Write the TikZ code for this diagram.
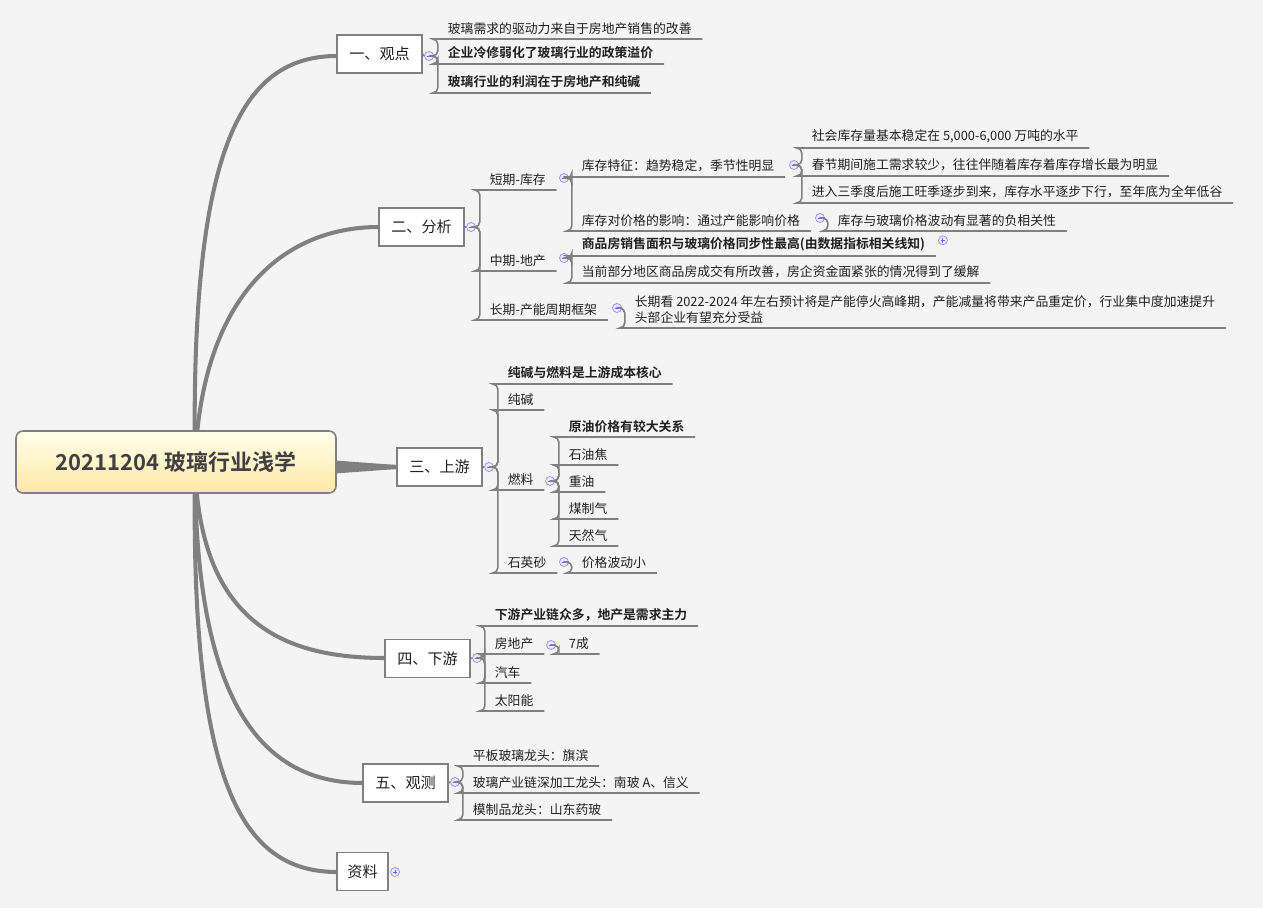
\documentclass[tikz,border=0pt]{standalone}
\usepackage{fontspec}
\setmainfont{Noto Sans CJK SC}[BoldFont={Noto Sans CJK SC Bold}]
\usetikzlibrary{calc, positioning}

\definecolor{bggray}{HTML}{F4F4F4}
\definecolor{linegray}{HTML}{808080}
\definecolor{txt}{HTML}{202020}

\tikzset{
  branch/.style={draw=linegray, line width=2.3pt, line cap=round},
  topic/.style={draw=linegray, fill=white, line width=0.8pt, minimum width=85*0.02cm,
    minimum height=38*0.02cm, inner sep=0pt, font=\fontsize{8.6}{10}\selectfont, text=txt},
  leaf/.style={anchor=south west, inner xsep=6pt, inner ysep=2.5pt,
    font=\fontsize{7.3}{8.8}\selectfont, text=txt},
  bleaf/.style={leaf, font=\fontsize{7.3}{8.8}\selectfont\bfseries},
  conn/.style={draw=linegray, line width=0.9pt, rounded corners=3pt},
  fold/.style={circle, draw=blue!45, fill=blue!8, line width=0.4pt, minimum size=9*0.02cm,
    inner sep=0pt, path picture={\draw[blue!60, line width=0.5pt]
      ($(path picture bounding box.west)+(1.2pt,0)$) -- ($(path picture bounding box.east)+(-1.2pt,0)$);}},
  unfold/.style={fold, path picture={\draw[blue!60, line width=0.5pt]
      ($(path picture bounding box.west)+(1.2pt,0)$) -- ($(path picture bounding box.east)+(-1.2pt,0)$)
      ($(path picture bounding box.north)+(0,-1.2pt)$) -- ($(path picture bounding box.south)+(0,1.2pt)$);}},
}

\begin{document}
\begin{tikzpicture}[x=0.02cm, y=-0.02cm]

  \fill[bggray] (0,0) rectangle (1263,908);
  \useasboundingbox (0,0) rectangle (1263,908);

  % main branches
  \coordinate (hub) at (195,466);
  \draw[branch] (hub) .. controls (190,150) and (240,56) .. (337,56);
  \draw[branch] (hub) .. controls (200,300) and (280,227) .. (379,227);
  \draw[branch] (hub) .. controls (280,466) and (330,467) .. (397,467);
  \draw[branch] (hub) .. controls (200,620) and (280,658) .. (385,658);
  \draw[branch] (hub) .. controls (195,700) and (260,783) .. (363,783);
  \draw[branch] (hub) .. controls (190,780) and (240,872) .. (337,872);
  \fill[linegray] (300,458) -- (397,465) -- (397,469) -- (300,476) -- cycle;

  % root
  \node[draw=linegray, line width=0.9pt, rounded corners=4pt, top color=yellow!8, bottom color=yellow!45!orange!35,
    minimum width=320*0.02cm, minimum height=62*0.02cm, font=\fontsize{12.5}{14}\selectfont\bfseries,
    text=black!75] (root) at (176,462) {20211204 玻璃行业浅学};

  % topics
  \node[topic] (view) at (379.5,54) {一、观点};
  \node[topic] (anal) at (421.5,227) {二、分析};
  \node[topic] (up) at (439.5,467) {三、上游};
  \node[topic] (down) at (427.5,658.5) {四、下游};
  \node[topic] (watch) at (405.5,783) {五、观测};
  \node[topic, minimum width=51*0.02cm] (ref) at (362.5,871.5) {资料};

  % 一、观点
  \node[fold] (viewf) at (429,56) {};
  \draw[conn] (view.east) -- (viewf.west);
  \node[leaf] (v1) at (437,39) {玻璃需求的驱动力来自于房地产销售的改善};
  \node[bleaf] (v2) at (437,64) {企业冷修弱化了玻璃行业的政策溢价};
  \node[bleaf] (v3) at (437,93) {玻璃行业的利润在于房地产和纯碱};
  \foreach \n in {v1,v2,v3}
    \draw[conn] (viewf.east) -- ++(4,0) |- (\n.south west) -- (\n.south east);

  % 二、分析
  \node[fold] (analf) at (471,227) {};
  \draw[conn] (anal.east) -- (analf.west);
  \node[leaf] (short) at (479,190) {短期-库存};
  \node[leaf] (mid) at (479,271) {中期-地产};
  \node[leaf] (long) at (479,320) {长期-产能周期框架};
  \foreach \n in {short,mid,long}
    \draw[conn] (analf.east) -- ++(4,0) |- (\n.south west) -- (\n.south east);

  \node[fold] (shortf) at (564,178) {};
  \node[leaf] (stock) at (571,177) {库存特征：趋势稳定，季节性明显};
  \node[leaf] (price) at (571,231) {库存对价格的影响：通过产能影响价格};
  \foreach \n in {stock,price}
    \draw[conn] (shortf.east) -- ++(3,0) |- (\n.south west) -- (\n.south east);

  \node[fold] (stockf) at (794,165) {};
  \node[leaf] (s1) at (801,148) {社会库存量基本稳定在 5,000-6,000 万吨的水平};
  \node[leaf] (s2) at (801,176) {春节期间施工需求较少，往往伴随着库存着库存增长最为明显};
  \node[leaf] (s3) at (801,203) {进入三季度后施工旺季逐步到来，库存水平逐步下行，至年底为全年低谷};
  \foreach \n in {s1,s2,s3}
    \draw[conn] (stockf.east) -- ++(3,0) |- (\n.south west) -- (\n.south east);

  \node[fold] (pricef) at (820,218) {};
  \node[leaf] (p1) at (827,231) {库存与玻璃价格波动有显著的负相关性};
  \draw[conn] (pricef.east) -- ++(3,0) |- (p1.south west) -- (p1.south east);

  \node[fold] (midf) at (564,258) {};
  \node[bleaf] (m1) at (571,256) {商品房销售面积与玻璃价格同步性最高(由数据指标相关线知)};
  \node[leaf] (m2) at (571,283) {当前部分地区商品房成交有所改善，房企资金面紧张的情况得到了缓解};
  \foreach \n in {m1,m2}
    \draw[conn] (midf.east) -- ++(3,0) |- (\n.south west) -- (\n.south east);
  \node[unfold, right=2pt of m1.south east, anchor=south west, yshift=7pt] (m1f) {};

  \node[fold] (longf) at (617,308) {};
  \node[leaf, align=left] (l1) at (624,328) {长期看 2022-2024 年左右预计将是产能停火高峰期，产能减量将带来产品重定价，行业集中度加速提升\\头部企业有望充分受益};
  \draw[conn] (longf.east) -- ++(3,0) |- (l1.south west) -- (l1.south east);

  % 三、上游
  \node[fold] (upf) at (489,467) {};
  \draw[conn] (up.east) -- (upf.west);
  \node[bleaf] (u1) at (497,384) {纯碱与燃料是上游成本核心};
  \node[leaf] (soda) at (497,410) {纯碱};
  \node[leaf] (fuel) at (497,490) {燃料};
  \node[leaf] (sand) at (497,573) {石英砂};
  \foreach \n in {u1,soda,fuel,sand}
    \draw[conn] (upf.east) -- ++(4,0) |- (\n.south west) -- (\n.south east);

  \node[fold] (fuelf) at (550,481) {};
  \node[bleaf] (f1) at (558,437) {原油价格有较大关系};
  \node[leaf] (f2) at (558,465) {石油焦};
  \node[leaf] (f3) at (558,492) {重油};
  \node[leaf] (f4) at (558,519) {煤制气};
  \node[leaf] (f5) at (558,546) {天然气};
  \foreach \n in {f1,f2,f3,f4,f5}
    \draw[conn] (fuelf.east) -- ++(4,0) |- (\n.south west) -- (\n.south east);

  \node[fold] (sandf) at (564,562) {};
  \node[leaf] (q1) at (571,573) {价格波动小};
  \draw[conn] (sandf.east) -- ++(3,0) |- (q1.south west) -- (q1.south east);

  % 四、下游
  \node[fold] (downf) at (477,658) {};
  \draw[conn] (down.east) -- (downf.west);
  \node[bleaf] (d1) at (484,626) {下游产业链众多，地产是需求主力};
  \node[leaf] (estate) at (484,654) {房地产};
  \node[leaf] (car) at (484,683) {汽车};
  \node[leaf] (solar) at (484,711) {太阳能};
  \foreach \n in {d1,estate,car,solar}
    \draw[conn] (downf.east) -- ++(3,0) |- (\n.south west) -- (\n.south east);

  \node[fold] (estatef) at (551,645) {};
  \node[leaf] (e1) at (558,654) {7成};
  \draw[conn] (estatef.east) -- ++(3,0) |- (e1.south west) -- (e1.south east);

  % 五、观测
  \node[fold] (watchf) at (455,782) {};
  \draw[conn] (watch.east) -- (watchf.west);
  \node[leaf] (w1) at (462,766) {平板玻璃龙头：旗滨};
  \node[leaf] (w2) at (462,793) {玻璃产业链深加工龙头：南玻 A、信义};
  \node[leaf] (w3) at (462,820) {模制品龙头：山东药玻};
  \foreach \n in {w1,w2,w3}
    \draw[conn] (watchf.east) -- ++(3,0) |- (\n.south west) -- (\n.south east);

  % 资料
  \node[unfold] (reff) at (395,872) {};

\end{tikzpicture}
\end{document}
